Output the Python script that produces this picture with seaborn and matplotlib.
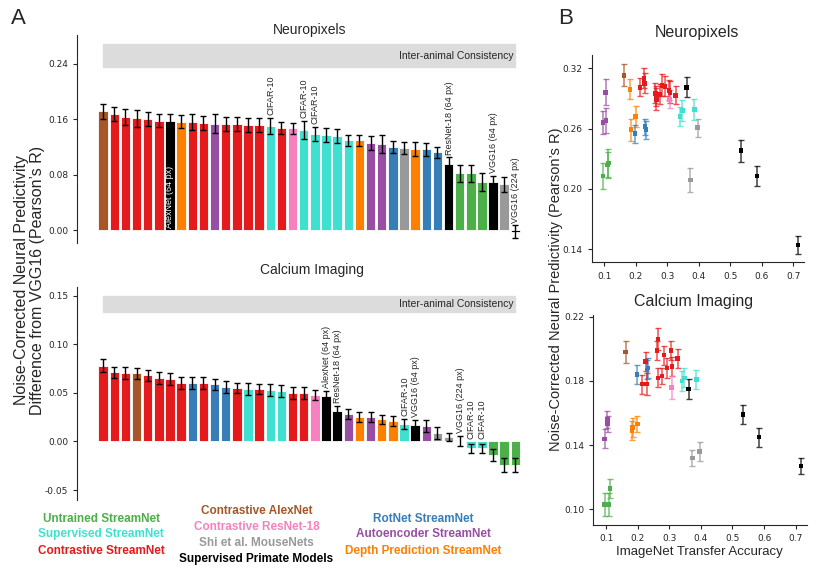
import numpy as np
import pandas as pd
import seaborn as sns
import matplotlib.pyplot as plt
from matplotlib.ticker import FormatStrFormatter

sns.set_style("ticks")
plt.rcParams['font.family'] = ['Liberation Sans', 'DejaVu Sans']
plt.rcParams['axes.unicode_minus'] = False

#### Dados

cores = {
    'untrained': '#4daf4a', 'supervised': '#40e0d0', 'contrastive': '#e41a1c',
    'alexnet': '#a65628', 'resnet': '#f781bf', 'shi': '#999999', 'primate': '#000000',
    'rotnet': '#377eb8', 'autoencoder': '#984ea3', 'depth': '#ff7f00',
}

# Painel A - Neuropixels
np_grupos = ['alexnet', 'contrastive', 'contrastive', 'contrastive', 'contrastive', 'contrastive',
             'primate', 'depth', 'contrastive', 'contrastive', 'autoencoder', 'contrastive',
             'contrastive', 'contrastive', 'contrastive', 'supervised', 'contrastive', 'resnet',
             'supervised', 'supervised', 'supervised', 'supervised', 'supervised', 'depth',
             'autoencoder', 'autoencoder', 'rotnet', 'shi', 'depth', 'rotnet', 'rotnet',
             'primate', 'untrained', 'untrained', 'untrained', 'primate', 'shi', 'primate']
np_valores = [0.171, 0.1675, 0.163, 0.161, 0.160, 0.158, 0.158, 0.1565, 0.156, 0.154,
              0.1536, 0.1536, 0.1526, 0.1516, 0.151, 0.150, 0.147, 0.147, 0.144, 0.1386,
              0.1367, 0.1357, 0.1295, 0.1295, 0.125, 0.1237, 0.120, 0.1183, 0.1165, 0.1165,
              0.112, 0.0948, 0.0817, 0.0817, 0.070, 0.070, 0.066, -0.002]
np_erros = [0.011, 0.010, 0.011, 0.012, 0.010, 0.010, 0.010, 0.009, 0.012, 0.010,
            0.014, 0.010, 0.010, 0.010, 0.010, 0.012, 0.009, 0.008, 0.013, 0.010,
            0.010, 0.010, 0.008, 0.008, 0.010, 0.013, 0.009, 0.009, 0.010, 0.009,
            0.008, 0.010, 0.012, 0.012, 0.013, 0.008, 0.011, 0.009]
np_rotulos = {6: 'AlexNet (64 px)', 15: 'CIFAR-10', 18: 'CIFAR-10', 19: 'CIFAR-10',
              31: 'ResNet-18 (64 px)', 35: 'VGG16 (64 px)', 37: 'VGG16 (224 px)'}

# Painel A - Calcium Imaging
ca_grupos = ['contrastive', 'contrastive', 'contrastive', 'alexnet', 'contrastive', 'contrastive',
             'contrastive', 'contrastive', 'rotnet', 'contrastive', 'rotnet', 'rotnet',
             'contrastive', 'supervised', 'contrastive', 'supervised', 'supervised', 'contrastive',
             'contrastive', 'resnet', 'primate', 'primate', 'autoencoder', 'depth', 'autoencoder',
             'depth', 'depth', 'supervised', 'primate', 'autoencoder', 'shi', 'shi', 'primate',
             'supervised', 'supervised', 'untrained', 'untrained', 'untrained']
ca_valores = [0.078, 0.071, 0.0705, 0.070, 0.068, 0.065, 0.064, 0.060, 0.060, 0.060,
              0.0587, 0.056, 0.055, 0.054, 0.054, 0.053, 0.052, 0.050, 0.050, 0.048,
              0.047, 0.0316, 0.028, 0.0254, 0.0254, 0.0227, 0.0213, 0.0178, 0.0168, 0.016,
              0.0086, 0.0044, 0.0005, -0.0072, -0.0072, -0.014, -0.024, -0.024]
ca_erros = [0.007, 0.006, 0.006, 0.006, 0.006, 0.006, 0.006, 0.006, 0.006, 0.006,
            0.006, 0.006, 0.005, 0.006, 0.005, 0.006, 0.006, 0.006, 0.006, 0.005,
            0.005, 0.005, 0.005, 0.005, 0.005, 0.005, 0.005, 0.005, 0.005, 0.006,
            0.006, 0.004, 0.005, 0.005, 0.005, 0.006, 0.007, 0.007]
ca_rotulos = {20: 'AlexNet (64 px)', 21: 'ResNet-18 (64 px)', 27: 'CIFAR-10', 28: 'VGG16 (64 px)',
              32: 'VGG16 (224 px)', 33: 'CIFAR-10', 34: 'CIFAR-10'}

# Painel B - transfer accuracy vs predictivity
sc_grupos = (['alexnet'] + ['depth'] * 3 + ['rotnet'] * 3 + ['autoencoder'] * 3 + ['untrained'] * 3
             + ['contrastive'] * 12 + ['resnet'] + ['supervised'] * 3 + ['primate'] * 4 + ['shi'] * 2)
sc_acc = [0.162,
          0.182, 0.184, 0.199,
          0.198, 0.230, 0.233,
          0.095, 0.104, 0.105,
          0.095, 0.110, 0.113,
          0.214, 0.225, 0.228, 0.262, 0.265, 0.265, 0.276, 0.284, 0.292, 0.305, 0.309, 0.326,
          0.307,
          0.341, 0.348, 0.386,
          0.361, 0.534, 0.584, 0.716,
          0.373, 0.396]
sc_np = [0.313,
         0.299, 0.259, 0.272,
         0.255, 0.262, 0.259,
         0.266, 0.296, 0.268,
         0.213, 0.224, 0.226,
         0.301, 0.310, 0.305, 0.295, 0.289, 0.292, 0.294, 0.303, 0.302, 0.298, 0.296, 0.293,
         0.289,
         0.272, 0.278, 0.279,
         0.301, 0.238, 0.213, 0.144,
         0.209, 0.261]
sc_np_err = [0.011,
             0.010, 0.011, 0.010,
             0.009, 0.008, 0.009,
             0.011, 0.013, 0.012,
             0.013, 0.013, 0.014,
             0.009, 0.010, 0.010, 0.010, 0.011, 0.010, 0.010, 0.011, 0.010, 0.010, 0.011, 0.009,
             0.009,
             0.009, 0.010, 0.010,
             0.010, 0.011, 0.010, 0.009,
             0.012, 0.009]
sc_ca = [0.198,
         0.149, 0.151, 0.153,
         0.184, 0.187, 0.188,
         0.144, 0.156, 0.153,
         0.103, 0.103, 0.113,
         0.178, 0.192, 0.178, 0.199, 0.206, 0.182, 0.183, 0.196, 0.188, 0.199, 0.189, 0.194,
         0.176,
         0.180, 0.182, 0.181,
         0.175, 0.159, 0.145, 0.127,
         0.132, 0.136]
sc_ca_err = [0.007,
             0.006, 0.006, 0.005,
             0.006, 0.006, 0.006,
             0.006, 0.005, 0.005,
             0.007, 0.007, 0.006,
             0.006, 0.006, 0.007, 0.006, 0.007, 0.006, 0.005, 0.006, 0.006, 0.006, 0.006, 0.006,
             0.007,
             0.006, 0.006, 0.006,
             0.006, 0.006, 0.006, 0.005,
             0.005, 0.006]

legenda = [
    (0.122, 0.097, 'Untrained StreamNet', 'untrained'),
    (0.122, 0.071, 'Supervised StreamNet', 'supervised'),
    (0.122, 0.042, 'Contrastive StreamNet', 'contrastive'),
    (0.309, 0.111, 'Contrastive AlexNet', 'alexnet'),
    (0.309, 0.084, 'Contrastive ResNet-18', 'resnet'),
    (0.309, 0.056, 'Shi et al. MouseNets', 'shi'),
    (0.309, 0.027, 'Supervised Primate Models', 'primate'),
    (0.510, 0.097, 'RotNet StreamNet', 'rotnet'),
    (0.510, 0.071, 'Autoencoder StreamNet', 'autoencoder'),
    (0.510, 0.042, 'Depth Prediction StreamNet', 'depth'),
]

#### Figura

fig = plt.figure(figsize=(8.3, 5.75), dpi=100)
ax_np = fig.add_axes([0.093, 0.577, 0.54, 0.362])
ax_ca = fig.add_axes([0.093, 0.130, 0.54, 0.371])
ax_snp = fig.add_axes([0.713, 0.5435, 0.256, 0.361])
ax_sca = fig.add_axes([0.715, 0.087, 0.257, 0.365])


def barras(ax, grupos, valores, erros, rotulos, faixa, ylim, yticks, pad, dentro=None):
    chaves = [str(i) for i in range(len(valores))]
    df = pd.DataFrame({'chave': chaves, 'valor': valores})
    paleta = {k: cores[g] for k, g in zip(chaves, grupos)}
    sns.barplot(data=df, x='chave', y='valor', hue='chave', palette=paleta, legend=False,
                width=0.85, edgecolor='white', linewidth=0.6, saturation=1, ax=ax)
    pos = np.arange(len(valores))
    ax.errorbar(pos, valores, yerr=erros, fmt='none', ecolor='black', elinewidth=1,
                capsize=2, capthick=1)
    ax.fill_between([0, len(valores) - 1], faixa[0], faixa[1], color='#dcdcdc', zorder=0)
    ax.text(len(valores) - 1.2, (faixa[0] + faixa[1]) / 2, 'Inter-animal Consistency',
            ha='right', va='center', fontsize=7.5)
    for i, txt in rotulos.items():
        if i == dentro:
            # rotulo branco dentro da barra
            ax.text(i, 0.003, txt, rotation=90, ha='center', va='bottom', color='white',
                    fontsize=6.5, zorder=5)
        else:
            topo = max(valores[i] + erros[i], 0)
            ax.text(i + 0.05, topo + pad, txt, rotation=90, ha='center', va='bottom', fontsize=6.5)
    ax.set_xlim(-2.33, 37.9)
    ax.set_ylim(*ylim)
    ax.set_yticks(yticks)
    ax.yaxis.set_major_formatter(FormatStrFormatter('%.2f'))
    ax.set_xticks([])
    ax.set_xlabel('')
    ax.set_ylabel('')
    sns.despine(ax=ax, bottom=True)
    ax.tick_params(axis='y', labelsize=6.5, length=3, width=0.8)
    for t in ax.get_yticklabels():
        t.set_family('DejaVu Sans')


barras(ax_np, np_grupos, np_valores, np_erros, np_rotulos, (0.235, 0.268),
       (-0.0187, 0.281), [0.0, 0.08, 0.16, 0.24], 0.004, dentro=6)
barras(ax_ca, ca_grupos, ca_valores, ca_erros, ca_rotulos, (0.133, 0.150),
       (-0.0605, 0.159), [-0.05, 0.0, 0.05, 0.10, 0.15], 0.003)

df_sc = pd.DataFrame({'grupo': sc_grupos, 'acc': sc_acc, 'np': sc_np, 'np_err': sc_np_err,
                      'ca': sc_ca, 'ca_err': sc_ca_err})


def dispersao(ax, col, ylim, yticks):
    for _, r in df_sc.iterrows():
        ax.errorbar(r['acc'], r[col], yerr=r[col + '_err'], fmt='none', ecolor=cores[r['grupo']],
                    elinewidth=1.1, capsize=2, capthick=1, alpha=0.75)
    sns.scatterplot(data=df_sc, x='acc', y=col, hue='grupo', palette=cores, marker='s', s=10,
                    linewidth=0, legend=False, ax=ax, zorder=3)
    ax.set_xlim(0.06, 0.735)
    ax.set_ylim(*ylim)
    ax.set_xticks([0.1, 0.2, 0.3, 0.4, 0.5, 0.6, 0.7])
    ax.set_yticks(yticks)
    ax.yaxis.set_major_formatter(FormatStrFormatter('%.2f'))
    ax.set_xlabel('')
    ax.set_ylabel('')
    sns.despine(ax=ax)
    ax.tick_params(labelsize=6.5, length=3, width=0.8)
    for t in ax.get_xticklabels() + ax.get_yticklabels():
        t.set_family('DejaVu Sans')


dispersao(ax_snp, 'np', (0.1267, 0.3333), [0.14, 0.20, 0.26, 0.32])
dispersao(ax_sca, 'ca', (0.0903, 0.221), [0.10, 0.14, 0.18, 0.22])

# titulos e rotulos
fig.text(0.373, 0.948, 'Neuropixels', ha='center', va='center', fontsize=10)
fig.text(0.376, 0.530, 'Calcium Imaging', ha='center', va='center', fontsize=10)
fig.text(0.840, 0.943, 'Neuropixels', ha='center', va='center', fontsize=11.5)
fig.text(0.836, 0.475, 'Calcium Imaging', ha='center', va='center', fontsize=11.5)
fig.text(0.036, 0.513, 'Noise-Corrected Neural Predictivity\nDifference from VGG16 (Pearson\u2019s R)',
         rotation=90, ha='center', va='center', fontsize=11.5, linespacing=1.1)
fig.text(0.670, 0.497, 'Noise-Corrected Neural Predictivity (Pearson\u2019s R)',
         rotation=90, ha='center', va='center', fontsize=10.5)
fig.text(0.843, 0.040, 'ImageNet Transfer Accuracy', ha='center', va='center', fontsize=9.5)
fig.text(0.022, 0.968, 'A', ha='center', va='center', fontsize=16)
fig.text(0.681, 0.968, 'B', ha='center', va='center', fontsize=16)

for x, y, txt, g in legenda:
    fig.text(x, y, txt, ha='center', va='center', fontsize=8.5, fontweight='bold', color=cores[g])

plt.savefig('out.png', dpi=100)
